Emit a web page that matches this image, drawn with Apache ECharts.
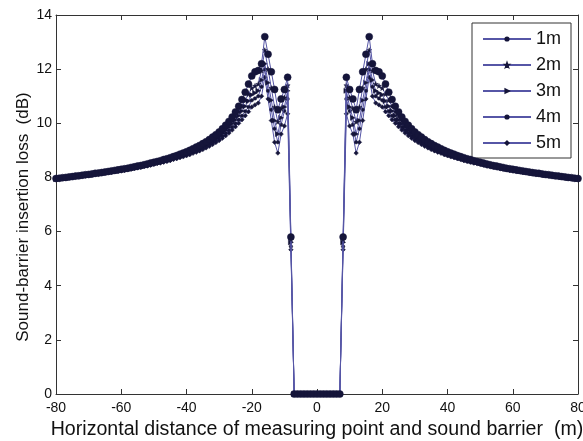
<!DOCTYPE html>
<html>
<head>
<meta charset="utf-8">
<script src="https://cdn.jsdelivr.net/npm/echarts@6/dist/echarts.min.js"></script>
<style>html,body{margin:0;padding:0;background:#fff}#c{width:583px;height:441px}</style>
</head>
<body>
<div id="c"></div>
<script>
const xs = [-80,-79,-78,-77,-76,-75,-74,-73,-72,-71,-70,-69,-68,-67,-66,-65,-64,-63,-62,-61,
-60,-59,-58,-57,-56,-55,-54,-53,-52,-51,-50,-49,-48,-47,-46,-45,-44,-43,-42,-41,
-40,-39,-38,-37,-36,-35,-34,-33,-32,-31,-30,-29,-28,-27,-26,-25,-24,-23,-22,-21,
-20,-19,-18,-17,-16,-15,-14,-13,-12,-11,-10,-9,-8,-7,-6,-5,-4,-3,-2,-1,
0,1,2,3,4,5,6,7,8,9,10,11,12,13,14,15,16,17,18,19,20,21,22,23,24,25,26,27,28,29,30,
31,32,33,34,35,36,37,38,39,40,41,42,43,44,45,46,47,48,49,50,51,52,53,54,55,56,57,58,59,60,
61,62,63,64,65,66,67,68,69,70,71,72,73,74,75,76,77,78,79,80];

const s1m = [7.96,7.97,7.99,8.00,8.02,8.03,8.05,8.06,8.08,8.10,
8.11,8.13,8.15,8.16,8.18,8.20,8.22,8.24,8.26,8.28,
8.30,8.32,8.34,8.37,8.39,8.42,8.44,8.47,8.50,8.53,
8.56,8.59,8.62,8.66,8.69,8.73,8.77,8.81,8.86,8.90,
8.95,9.00,9.06,9.12,9.18,9.25,9.32,9.40,9.49,9.58,
9.68,9.80,9.93,10.07,10.23,10.42,10.63,10.88,11.15,11.45,
11.75,11.90,11.95,12.20,13.20,12.55,11.90,11.25,10.50,10.90,
11.25,11.70,5.80,
0,0,0,0,0,0,0,0,0,0,0,0,0,0,0,
5.80,11.70,11.25,
10.90,10.50,11.25,11.90,12.55,13.20,12.20,11.95,11.90,11.75,
11.45,11.15,10.88,10.63,10.42,10.23,10.07,9.93,9.80,9.68,
9.58,9.49,9.40,9.32,9.25,9.18,9.12,9.06,9.00,8.95,
8.90,8.86,8.81,8.77,8.73,8.69,8.66,8.62,8.59,8.56,
8.53,8.50,8.47,8.44,8.42,8.39,8.37,8.34,8.32,8.30,
8.28,8.26,8.24,8.22,8.20,8.18,8.16,8.15,8.13,8.11,
8.10,8.08,8.06,8.05,8.03,8.02,8.00,7.99,7.97,7.96];

const s2m = [7.95,7.96,7.98,7.99,8.01,8.02,8.04,8.05,8.07,8.09,
8.10,8.12,8.14,8.15,8.17,8.19,8.21,8.23,8.25,8.27,
8.29,8.31,8.33,8.35,8.37,8.40,8.42,8.45,8.48,8.51,
8.54,8.57,8.60,8.63,8.66,8.70,8.74,8.78,8.82,8.86,
8.91,8.96,9.01,9.07,9.13,9.20,9.27,9.34,9.42,9.51,
9.60,9.71,9.83,9.96,10.10,10.26,10.44,10.63,10.85,11.08,
11.30,11.38,11.45,11.95,12.70,12.00,11.30,10.60,10.05,10.55,
10.95,11.40,5.70,
0,0,0,0,0,0,0,0,0,0,0,0,0,0,0,
5.70,11.40,10.95,
10.55,10.05,10.60,11.30,12.00,12.70,11.95,11.45,11.38,11.30,
11.08,10.85,10.63,10.44,10.26,10.10,9.96,9.83,9.71,9.60,
9.51,9.42,9.34,9.27,9.20,9.13,9.07,9.01,8.96,8.91,
8.86,8.82,8.78,8.74,8.70,8.66,8.63,8.60,8.57,8.54,
8.51,8.48,8.45,8.42,8.40,8.37,8.35,8.33,8.31,8.29,
8.27,8.25,8.23,8.21,8.19,8.17,8.15,8.14,8.12,8.10,
8.09,8.07,8.05,8.04,8.02,8.01,7.99,7.98,7.96,7.95];

const s3m = [7.94,7.95,7.97,7.98,8.00,8.01,8.03,8.04,8.06,8.07,
8.09,8.11,8.12,8.14,8.16,8.18,8.20,8.21,8.23,8.25,
8.27,8.29,8.31,8.33,8.36,8.38,8.40,8.43,8.46,8.49,
8.52,8.55,8.58,8.61,8.64,8.67,8.71,8.75,8.79,8.83,
8.87,8.92,8.97,9.02,9.08,9.14,9.21,9.28,9.35,9.43,
9.52,9.62,9.73,9.85,9.98,10.12,10.28,10.45,10.63,10.82,
11.05,11.12,11.20,11.60,12.20,11.50,10.85,10.10,9.60,10.20,
10.60,11.20,5.60,
0,0,0,0,0,0,0,0,0,0,0,0,0,0,0,
5.60,11.20,10.60,
10.20,9.60,10.10,10.85,11.50,12.20,11.60,11.20,11.12,11.05,
10.82,10.63,10.45,10.28,10.12,9.98,9.85,9.73,9.62,9.52,
9.43,9.35,9.28,9.21,9.14,9.08,9.02,8.97,8.92,8.87,
8.83,8.79,8.75,8.71,8.67,8.64,8.61,8.58,8.55,8.52,
8.49,8.46,8.43,8.40,8.38,8.36,8.33,8.31,8.29,8.27,
8.25,8.23,8.21,8.20,8.18,8.16,8.14,8.12,8.11,8.09,
8.07,8.06,8.04,8.03,8.01,8.00,7.98,7.97,7.95,7.94];

const s4m = [7.93,7.94,7.96,7.97,7.99,8.00,8.02,8.03,8.05,8.06,
8.08,8.10,8.11,8.13,8.15,8.17,8.18,8.20,8.22,8.24,
8.26,8.28,8.30,8.32,8.34,8.37,8.39,8.42,8.44,8.47,
8.50,8.53,8.56,8.59,8.62,8.65,8.69,8.72,8.76,8.80,
8.84,8.88,8.93,8.98,9.03,9.09,9.15,9.22,9.29,9.36,
9.44,9.53,9.63,9.74,9.86,9.99,10.13,10.28,10.44,10.60,
10.85,10.92,11.00,11.35,12.00,11.20,10.50,9.80,9.30,9.95,
10.45,10.90,5.45,
0,0,0,0,0,0,0,0,0,0,0,0,0,0,0,
5.45,10.90,10.45,
9.95,9.30,9.80,10.50,11.20,12.00,11.35,11.00,10.92,10.85,
10.60,10.44,10.28,10.13,9.99,9.86,9.74,9.63,9.53,9.44,
9.36,9.29,9.22,9.15,9.09,9.03,8.98,8.93,8.88,8.84,
8.80,8.76,8.72,8.69,8.65,8.62,8.59,8.56,8.53,8.50,
8.47,8.44,8.42,8.39,8.37,8.34,8.32,8.30,8.28,8.26,
8.24,8.22,8.20,8.18,8.17,8.15,8.13,8.11,8.10,8.08,
8.06,8.05,8.03,8.02,8.00,7.99,7.97,7.96,7.94,7.93];

const s5m = [7.92,7.93,7.95,7.96,7.98,7.99,8.01,8.02,8.04,8.05,
8.07,8.08,8.10,8.12,8.13,8.15,8.17,8.19,8.21,8.22,
8.24,8.26,8.28,8.30,8.33,8.35,8.37,8.40,8.42,8.45,
8.48,8.51,8.53,8.56,8.59,8.62,8.66,8.69,8.73,8.76,
8.80,8.84,8.89,8.93,8.98,9.03,9.09,9.15,9.22,9.29,
9.36,9.45,9.54,9.64,9.75,9.87,10.00,10.13,10.28,10.43,
10.60,10.68,10.75,11.00,11.70,10.90,10.10,9.30,8.90,9.60,
9.90,10.35,5.33,
0,0,0,0,0,0,0,0,0,0,0,0,0,0,0,
5.33,10.35,9.90,
9.60,8.90,9.30,10.10,10.90,11.70,11.00,10.75,10.68,10.60,
10.43,10.28,10.13,10.00,9.87,9.75,9.64,9.54,9.45,9.36,
9.29,9.22,9.15,9.09,9.03,8.98,8.93,8.89,8.84,8.80,
8.76,8.73,8.69,8.66,8.62,8.59,8.56,8.53,8.51,8.48,
8.45,8.42,8.40,8.37,8.35,8.33,8.30,8.28,8.26,8.24,
8.22,8.21,8.19,8.17,8.15,8.13,8.12,8.10,8.08,8.07,
8.05,8.04,8.02,8.01,7.99,7.98,7.96,7.95,7.93,7.92];

const seriesNames = ['1m','2m','3m','4m','5m'];
const xTicks = [-80,-60,-40,-20,0,20,40,60,80];
const yTicks = [0,2,4,6,8,10,12,14];
const xTitle = 'Horizontal distance of measuring point and sound barrier  (m)';
const yTitle = 'Sound-barrier insertion loss  (dB)';

const FONT = '"Liberation Sans", Arial, sans-serif';
const LINE = '#5656a6';
const MARK = '#15153a';
const STAR = 'path://M0,-10L2.4,-3.2L9.5,-3.1L3.8,1.2L5.9,8.1L0,4L-5.9,8.1L-3.8,1.2L-9.5,-3.1L-2.4,-3.2Z';
const styles = [
  {symbol:'circle', size:7, rot:0},
  {symbol:STAR, size:5, rot:0},
  {symbol:'triangle', size:5, rot:-90},
  {symbol:'circle', size:3.5, rot:0},
  {symbol:'diamond', size:4.5, rot:0}
];
const allData = [s1m,s2m,s3m,s4m,s5m];

const chart = echarts.init(document.getElementById('c'), null, {renderer:'canvas'});
const axisCommon = {
  axisLine:{show:true, onZero:false, lineStyle:{color:'#333', width:1}},
  axisTick:{show:true, inside:true, length:5, lineStyle:{color:'#333'}},
  splitLine:{show:false}
};
chart.setOption({
  animation:false,
  backgroundColor:'#fff',
  grid:{left:56, right:5, top:15, bottom:47, containLabel:false, outerBoundsMode:'none'},
  legend:{
    orient:'vertical', left:472, top:23,
    data:seriesNames,
    backgroundColor:'#fff', borderColor:'#333', borderWidth:1, borderRadius:0,
    padding:[7,10,6,10],
    itemWidth:48, itemHeight:4, itemGap:8,
    textStyle:{fontFamily:FONT, fontSize:18, color:'#111', lineHeight:18},
    inactiveColor:'#ccc'
  },
  graphic:[{
    type:'text', x:23, y:217, rotation:Math.PI/2,
    style:{text:yTitle, fontFamily:FONT, fontSize:17, fill:'#111', align:'center', verticalAlign:'middle'}
  }],
  xAxis:[
    Object.assign({type:'value', min:-80, max:80, interval:20, position:'bottom',
      name:xTitle,
      nameLocation:'middle', nameGap:26,
      nameTextStyle:{fontFamily:FONT, fontSize:19.6, color:'#111'},
      axisLabel:{show:true, margin:7, fontFamily:FONT, fontSize:14, color:'#111',
        formatter:v=>xTicks.includes(v)?String(v):''}}, axisCommon),
    Object.assign({type:'value', min:-80, max:80, interval:20, position:'top',
      axisLabel:{show:false}}, axisCommon)
  ],
  yAxis:[
    Object.assign({type:'value', min:0, max:14, interval:2, position:'left',
      axisLabel:{show:true, margin:4, fontFamily:FONT, fontSize:14, color:'#111',
        formatter:v=>yTicks.includes(v)?String(v):''}}, axisCommon),
    Object.assign({type:'value', min:0, max:14, interval:2, position:'right',
      axisLabel:{show:false}}, axisCommon)
  ],
  series: seriesNames.map((n,k)=>({
    name:n, type:'line', xAxisIndex:0, yAxisIndex:0,
    data: xs.map((x,i)=>[x, allData[k][i]]),
    symbol: styles[k].symbol, symbolSize: styles[k].size, symbolRotate: styles[k].rot,
    showSymbol:true, showAllSymbol:true,
    lineStyle:{color:LINE, width:1},
    itemStyle:{color:MARK, borderColor:MARK, borderWidth:0.5},
    emphasis:{disabled:true},
    z: 10-k
  }))
});
</script>
</body>
</html>
